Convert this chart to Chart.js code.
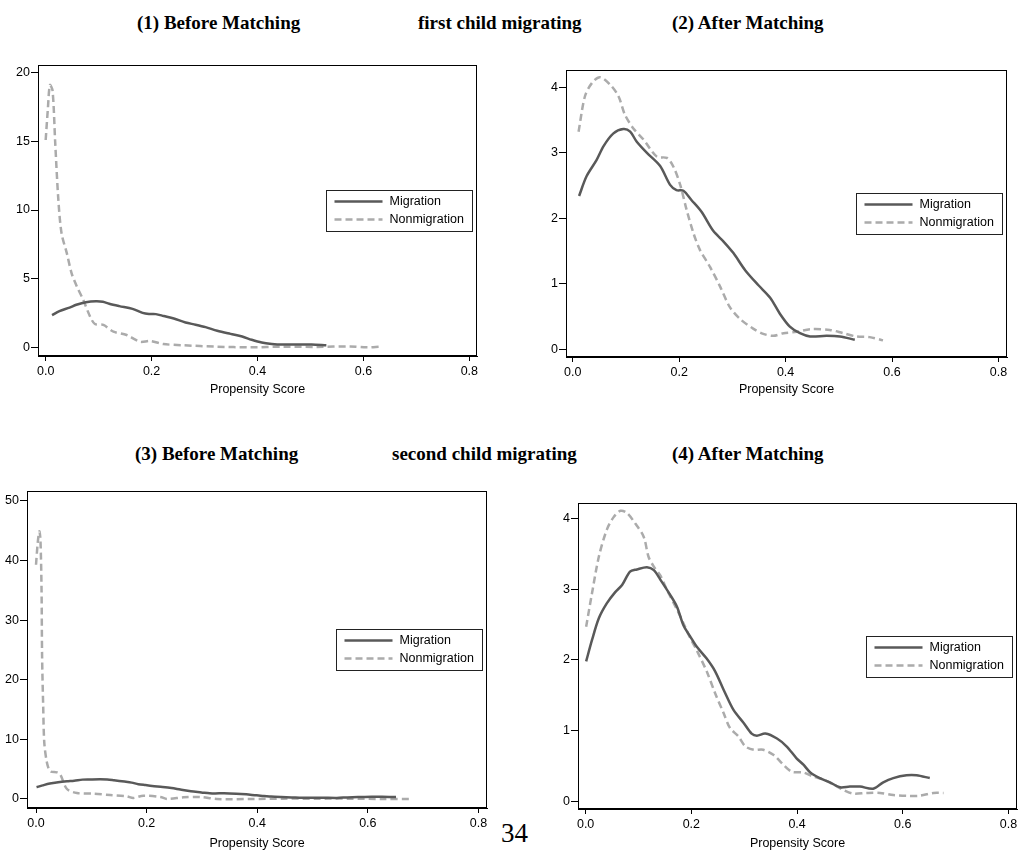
<!DOCTYPE html>
<html lang="en">

<head>
    <meta charset="UTF-8">
    <script src="https://cdn.jsdelivr.net/npm/chart.js"></script>
    <title>Propensity Score Densities</title>
    <style>
        body { margin: 0; width: 1022px; height: 854px; background: #fff; position: relative; overflow: hidden; }
        .titulo { position: absolute; font-family: "Liberation Serif", serif; font-weight: bold; font-size: 19px; white-space: nowrap; color: #000; }
        .painel { position: absolute; }
        .pagina { position: absolute; left: 501px; top: 818px; font-family: "Liberation Serif", serif; font-size: 27px; }
    </style>
</head>

<body>
    <div class="titulo" style="left:137px; top:12px">(1) Before Matching</div>
    <div class="titulo" style="left:418px; top:12px">first child migrating</div>
    <div class="titulo" style="left:672px; top:12px">(2) After Matching</div>
    <div class="titulo" style="left:135px; top:443px">(3) Before Matching</div>
    <div class="titulo" style="left:392px; top:443px">second child migrating</div>
    <div class="titulo" style="left:672px; top:443px">(4) After Matching</div>

    <div class="painel" style="left:0px; top:62px; width:480px; height:338px"><canvas id="grafico1"></canvas></div>
    <div class="painel" style="left:530px; top:67px; width:480px; height:333px"><canvas id="grafico2"></canvas></div>
    <div class="painel" style="left:0px; top:488px; width:490px; height:366px"><canvas id="grafico3"></canvas></div>
    <div class="painel" style="left:545px; top:500px; width:475px; height:354px"><canvas id="grafico4"></canvas></div>

    <div class="pagina">34</div>

    <script>
        // dados (densidade kernel do propensity score)
        const xTicks = [0, 0.2, 0.4, 0.6, 0.8];

        // primeiro filho - migração (mesma curva nos paineis 1 e 2)
        const mig1X = [0.012, 0.026, 0.045, 0.058, 0.076, 0.095, 0.108, 0.12, 0.139, 0.164, 0.183, 0.195, 0.208, 0.223, 0.242, 0.264, 0.283, 0.302, 0.324, 0.349, 0.371, 0.389, 0.408, 0.427, 0.446, 0.477, 0.502, 0.53];
        const mig1Y = [2.34, 2.64, 2.89, 3.10, 3.29, 3.36, 3.32, 3.17, 3.0, 2.80, 2.51, 2.43, 2.42, 2.28, 2.10, 1.81, 1.65, 1.47, 1.21, 0.98, 0.79, 0.55, 0.35, 0.25, 0.20, 0.21, 0.20, 0.15];

        // primeiro filho - não migração antes do pareamento
        const non1bX = [0.0, 0.004, 0.008, 0.013, 0.018, 0.024, 0.030, 0.040, 0.049, 0.059, 0.071, 0.084, 0.093, 0.109, 0.128, 0.153, 0.178, 0.197, 0.222, 0.26, 0.323, 0.386, 0.449, 0.512, 0.575, 0.606, 0.631];
        const non1bY = [15.1, 17.3, 19.1, 18.7, 14.9, 10.7, 8.3, 6.84, 5.39, 4.42, 3.45, 2.23, 1.70, 1.63, 1.14, 0.90, 0.41, 0.46, 0.24, 0.15, 0.05, 0.0, 0.05, 0.03, 0.07, 0.0, 0.05];

        // primeiro filho - não migração depois do pareamento
        const non1aX = [0.011, 0.023, 0.036, 0.051, 0.07, 0.086, 0.098, 0.114, 0.133, 0.158, 0.177, 0.189, 0.202, 0.214, 0.227, 0.239, 0.258, 0.277, 0.295, 0.314, 0.339, 0.358, 0.377, 0.396, 0.421, 0.446, 0.483, 0.508, 0.533, 0.558, 0.583];
        const non1aY = [3.32, 3.86, 4.06, 4.15, 4.04, 3.86, 3.58, 3.37, 3.20, 2.94, 2.92, 2.79, 2.51, 2.13, 1.77, 1.52, 1.26, 0.96, 0.65, 0.47, 0.32, 0.24, 0.21, 0.25, 0.27, 0.31, 0.30, 0.25, 0.20, 0.19, 0.14];

        // segundo filho - migração (paineis 3 e 4)
        const mig2X = [0.001, 0.012, 0.025, 0.04, 0.056, 0.069, 0.084, 0.097, 0.116, 0.129, 0.141, 0.16, 0.173, 0.185, 0.198, 0.21, 0.229, 0.245, 0.261, 0.28, 0.299, 0.314, 0.324, 0.34, 0.362, 0.38, 0.399, 0.412, 0.425, 0.443, 0.462, 0.481, 0.5, 0.519, 0.544, 0.563, 0.582, 0.607, 0.626, 0.651];
        const mig2Y = [1.98, 2.28, 2.59, 2.80, 2.96, 3.06, 3.25, 3.28, 3.31, 3.27, 3.14, 2.92, 2.75, 2.49, 2.33, 2.19, 2.02, 1.84, 1.58, 1.29, 1.11, 0.96, 0.93, 0.96, 0.89, 0.78, 0.61, 0.52, 0.41, 0.33, 0.27, 0.20, 0.21, 0.21, 0.18, 0.27, 0.33, 0.37, 0.37, 0.33];

        // segundo filho - não migração antes do pareamento
        const non2bX = [0.0, 0.003, 0.006, 0.008, 0.01, 0.011, 0.013, 0.015, 0.02, 0.026, 0.038, 0.044, 0.056, 0.074, 0.104, 0.134, 0.164, 0.176, 0.194, 0.225, 0.237, 0.267, 0.297, 0.327, 0.387, 0.447, 0.507, 0.568, 0.628, 0.679];
        const non2bY = [39.3, 42.9, 44.9, 43.5, 35.1, 23.9, 15.5, 9.4, 6.0, 4.64, 4.47, 4.08, 1.68, 1.0, 0.89, 0.67, 0.45, 0.17, 0.56, 0.34, 0.0, 0.28, 0.34, 0.0, 0.0, 0.06, 0.06, 0.06, 0.0, 0.0];

        // segundo filho - não migração depois do pareamento
        const non2aX = [0.001, 0.012, 0.025, 0.04, 0.053, 0.066, 0.078, 0.094, 0.11, 0.119, 0.129, 0.141, 0.154, 0.173, 0.185, 0.198, 0.21, 0.229, 0.245, 0.261, 0.273, 0.289, 0.302, 0.318, 0.336, 0.355, 0.374, 0.39, 0.412, 0.431, 0.45, 0.469, 0.488, 0.506, 0.532, 0.557, 0.582, 0.607, 0.632, 0.658, 0.677];
        const non2aY = [2.47, 2.94, 3.46, 3.84, 4.02, 4.11, 4.08, 3.93, 3.74, 3.46, 3.32, 3.20, 2.99, 2.71, 2.52, 2.31, 2.14, 1.84, 1.53, 1.25, 1.04, 0.92, 0.78, 0.73, 0.73, 0.66, 0.52, 0.42, 0.41, 0.35, 0.31, 0.24, 0.16, 0.11, 0.12, 0.12, 0.09, 0.08, 0.08, 0.12, 0.12];

        const fonteEixo = { family: "'Liberation Sans', Arial, sans-serif", size: 12.5 };

        function pontos(xs, ys) {
            return xs.map((x, i) => ({ x: x, y: ys[i] }));
        }

        function semPadding(s) {
            s.paddingTop = 0;
            s.paddingBottom = 0;
            s.paddingLeft = 0;
            s.paddingRight = 0;
        }

        // moldura + legenda dentro da area do grafico
        const molduraLegenda = {
            id: 'molduraLegenda',
            afterDatasetsDraw(chart) {
                const a = chart.chartArea;
                const ctx = chart.ctx;
                ctx.save();
                ctx.strokeStyle = '#000';
                ctx.lineWidth = 1;
                ctx.strokeRect(a.left + 0.5, a.top + 0.5, a.right - a.left - 1, a.bottom - a.top - 1);

                const w = 146, h = 41;
                const bx = Math.round(a.right - 5 - w) + 0.5;
                const by = Math.round((a.top + a.bottom) / 2 - h / 2) + 0.5;
                ctx.fillStyle = '#fff';
                ctx.fillRect(bx, by, w, h);
                ctx.strokeStyle = '#222';
                ctx.strokeRect(bx, by, w, h);
                ctx.font = "12.5px 'Liberation Sans', Arial, sans-serif";
                ctx.textBaseline = 'middle';
                chart.data.datasets.forEach((ds, i) => {
                    const cy = by + 11 + i * 18;
                    ctx.beginPath();
                    ctx.strokeStyle = ds.borderColor;
                    ctx.lineWidth = ds.borderWidth;
                    ctx.setLineDash(ds.borderDash || []);
                    ctx.moveTo(bx + 8, cy);
                    ctx.lineTo(bx + 56, cy);
                    ctx.stroke();
                    ctx.setLineDash([]);
                    ctx.fillStyle = '#000';
                    ctx.fillText(ds.label, bx + 63, cy);
                });
                ctx.restore();
            }
        };

        function plotarGrafico(id, migX, migY, nonX, nonY, yTicks, xMin, xMax, yMin, yMax, larguraY, alturaX) {
            const ctx = document.getElementById(id);
            const config = {
                type: 'line',
                data: {
                    datasets: [{
                        label: 'Migration',
                        data: pontos(migX, migY),
                        borderColor: '#595959',
                        borderWidth: 2.5,
                        pointRadius: 0,
                        tension: 0.3,
                        order: 1
                    }, {
                        label: 'Nonmigration',
                        data: pontos(nonX, nonY),
                        borderColor: '#ababab',
                        borderWidth: 2.5,
                        borderDash: [7, 4],
                        pointRadius: 0,
                        tension: 0.3,
                        order: 2
                    }]
                },
                options: {
                    responsive: true,
                    maintainAspectRatio: false,
                    animation: false,
                    layout: { padding: { top: 3, right: 3, left: 0, bottom: 0 } },
                    plugins: { legend: { display: false }, tooltip: { enabled: false } },
                    scales: {
                        x: {
                            type: 'linear',
                            min: xMin,
                            max: xMax,
                            afterBuildTicks: (s) => { s.ticks = xTicks.map(v => ({ value: v })); },
                            afterFit: (s) => { s.height = alturaX; semPadding(s); },
                            grid: { drawOnChartArea: false, drawTicks: true, tickLength: 5, color: '#000' },
                            border: { display: true, color: '#000' },
                            ticks: { color: '#000', font: fonteEixo, padding: 3, maxRotation: 0, callback: (v) => v.toFixed(1) },
                            title: { display: true, text: 'Propensity Score', color: '#000', font: fonteEixo, padding: { top: 2, bottom: 3 } }
                        },
                        y: {
                            min: yMin,
                            max: yMax,
                            afterBuildTicks: (s) => { s.ticks = yTicks.map(v => ({ value: v })); },
                            afterFit: (s) => { s.width = larguraY; semPadding(s); },
                            grid: { drawOnChartArea: false, drawTicks: true, tickLength: 7, color: '#000' },
                            border: { display: true, color: '#000' },
                            ticks: { color: '#000', font: fonteEixo, padding: 1, callback: (v) => String(v) }
                        }
                    }
                },
                plugins: [molduraLegenda]
            };
            new Chart(ctx, config);
        }

        plotarGrafico('grafico1', mig1X, mig1Y, non1bX, non1bY, [0, 5, 10, 15, 20], -0.0145, 0.8145, -0.63, 20.56, 38, 44);
        plotarGrafico('grafico2', mig1X, mig1Y, non1aX, non1aY, [0, 1, 2, 3, 4], -0.0126, 0.816, -0.113, 4.26, 36, 43);
        plotarGrafico('grafico3', mig2X, mig2Y, non2bX, non2bY, [0, 10, 20, 30, 40, 50], -0.0163, 0.8155, -1.51, 51.67, 27, 46);
        plotarGrafico('grafico4', mig2X, mig2Y, non2aX, non2aY, [0, 1, 2, 3, 4], -0.0144, 0.816, -0.107, 4.22, 33, 45);
    </script>
</body>

</html>
